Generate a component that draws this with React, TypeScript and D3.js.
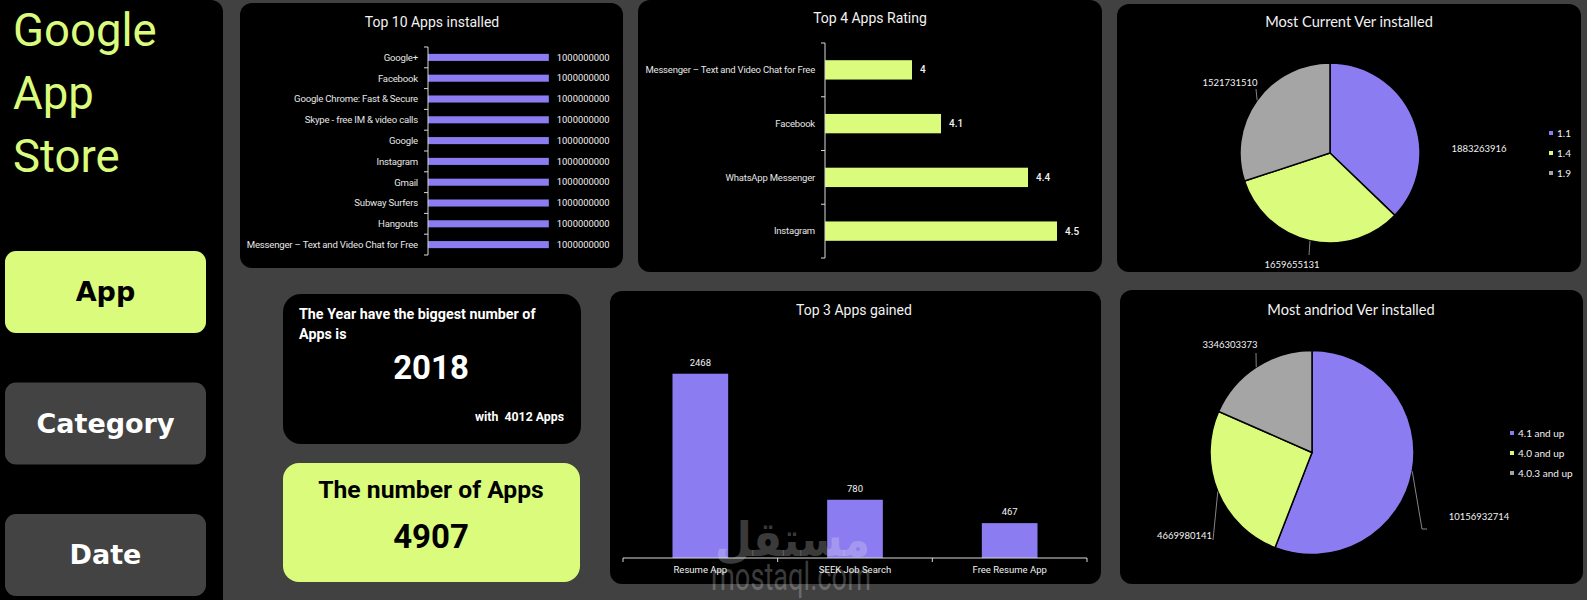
import { useEffect, useRef } from 'react';
import * as d3 from 'd3';

// ---- data ----
const navItems = ['App', 'Category', 'Date'];
const activeNav = 'App';

const installedApps = [
  'Google+',
  'Facebook',
  'Google Chrome: Fast & Secure',
  'Skype - free IM & video calls',
  'Google',
  'Instagram',
  'Gmail',
  'Subway Surfers',
  'Hangouts',
  'Messenger – Text and Video Chat for Free',
];
const installedCounts = [
  1000000000, 1000000000, 1000000000, 1000000000, 1000000000,
  1000000000, 1000000000, 1000000000, 1000000000, 1000000000,
];

const ratedApps = ['Messenger – Text and Video Chat for Free', 'Facebook', 'WhatsApp Messenger', 'Instagram'];
const ratings = [4, 4.1, 4.4, 4.5];

const gainedApps = ['Resume App', 'SEEK Job Search', 'Free Resume App'];
const gainedCounts = [2468, 780, 467];

const currentVersions = ['1.1', '1.4', '1.9'];
const currentVersionInstalls = [1883263916, 1659655131, 1521731510];

const androidVersions = ['4.1 and up', '4.0 and up', '4.0.3 and up'];
const androidVersionInstalls = [10156932714, 4669980141, 3346303373];

const topYear = 2018;
const topYearApps = 4012;
const totalApps = 4907;

// ---- look ----
const W = 1587;
const H = 600;
const BG = '#414141';
const LIME = '#dafb7c';
const PURPLE = '#8c7cf1';
const SLICE_GRAY = '#a5a5a5';
const sliceColors = [PURPLE, LIME, SLICE_GRAY];
const CHART_FONT = 'Roboto, sans-serif';
const PIE_FONT = 'Lato, sans-serif';
const NAV_FONT = '"DejaVu Sans", sans-serif';

type Sel = d3.Selection<any, unknown, null, undefined>;

function panel(svg: Sel, x: number, y: number, w: number, h: number, r: number, fill = '#000') {
  svg.append('rect')
    .attr('x', x).attr('y', y)
    .attr('width', w).attr('height', h)
    .attr('rx', r).attr('ry', r)
    .attr('fill', fill);
}

function chartTitle(svg: Sel, x: number, y: number, label: string, font = CHART_FONT, size = 14) {
  svg.append('text')
    .attr('x', x).attr('y', y)
    .attr('text-anchor', 'middle')
    .style('font-family', font)
    .style('font-size', `${size}px`)
    .style('fill', '#f2f2f2')
    .text(label);
}

// horizontal bar chart with category axis on the left
function hBars(svg: Sel, opts: {
  cats: string[]; vals: number[]; x0: number; top: number; bottom: number;
  domain: [number, number]; xMax: number; color: string; labelFmt: (v: number) => string;
  labelSize: number; valueSize: number; valueWeight: number; padIn: number;
}) {
  const { cats, vals, x0, top, bottom, domain, xMax, color } = opts;
  const y = d3.scaleBand().domain(cats).range([top, bottom])
    .paddingInner(opts.padIn).paddingOuter(opts.padIn / 2);
  const x = d3.scaleLinear().domain(domain).range([x0, xMax]);
  const g = svg.append('g');

  g.selectAll('rect.bar')
    .data(cats)
    .enter()
    .append('rect')
    .attr('class', 'bar')
    .attr('x', x0)
    .attr('y', d => y(d)!)
    .attr('width', (d, i) => x(vals[i]) - x0)
    .attr('height', y.bandwidth())
    .attr('fill', color);

  // axis line + ticks between categories
  const step = y.step();
  g.append('line')
    .attr('x1', x0).attr('x2', x0)
    .attr('y1', top).attr('y2', bottom)
    .attr('stroke', '#d9d9d9').attr('stroke-width', 1);
  g.selectAll('line.tick')
    .data(d3.range(cats.length + 1))
    .enter()
    .append('line')
    .attr('class', 'tick')
    .attr('x1', x0 - 4).attr('x2', x0)
    .attr('y1', i => top + i * step).attr('y2', i => top + i * step)
    .attr('stroke', '#d9d9d9').attr('stroke-width', 1);

  g.selectAll('text.cat')
    .data(cats)
    .enter()
    .append('text')
    .attr('class', 'cat')
    .attr('x', x0 - 10)
    .attr('y', d => y(d)! + y.bandwidth() / 2)
    .attr('dy', '0.35em')
    .attr('text-anchor', 'end')
    .style('font-family', CHART_FONT)
    .style('font-size', `${opts.labelSize}px`)
    .style('letter-spacing', '-0.2px')
    .style('fill', '#e6e6e6')
    .text(d => d);

  g.selectAll('text.val')
    .data(cats)
    .enter()
    .append('text')
    .attr('class', 'val')
    .attr('x', (d, i) => x(vals[i]) + 8)
    .attr('y', d => y(d)! + y.bandwidth() / 2)
    .attr('dy', '0.35em')
    .style('font-family', CHART_FONT)
    .style('font-size', `${opts.valueSize}px`)
    .style('font-weight', opts.valueWeight)
    .style('fill', '#f2f2f2')
    .text((d, i) => opts.labelFmt(vals[i]));
}

// pie with outside labels (positions relative to the pie centre, as placed in the sheet)
type PieLabel = { dx: number; dy: number; anchor: string; leader: [number, number][] };

function pieChart(svg: Sel, opts: {
  labels: string[]; values: number[]; cx: number; cy: number; r: number;
  placements: PieLabel[]; legendX: number; legendY: number;
}) {
  const { labels, values, cx, cy, r } = opts;
  const pie = d3.pie<number>().sort(null).value(d => d);
  const arcs = pie(values);
  const arc = d3.arc<d3.PieArcDatum<number>>().innerRadius(0).outerRadius(r);
  const g = svg.append('g').attr('transform', `translate(${cx},${cy})`);

  g.selectAll('path.slice')
    .data(arcs)
    .enter()
    .append('path')
    .attr('class', 'slice')
    .attr('d', arc)
    .attr('fill', (d, i) => sliceColors[i])
    .attr('stroke', '#000')
    .attr('stroke-width', 1.5);

  arcs.forEach((a, i) => {
    const p = opts.placements[i];
    const mid = (a.startAngle + a.endAngle) / 2;
    const edge: [number, number] = [r * Math.sin(mid), -r * Math.cos(mid)];
    if (p.leader.length) {
      g.append('path')
        .attr('d', d3.line()([edge, ...p.leader]))
        .attr('fill', 'none')
        .attr('stroke', '#a6a6a6')
        .attr('stroke-width', 0.8);
    }
    g.append('text')
      .attr('x', p.dx).attr('y', p.dy)
      .attr('text-anchor', p.anchor)
      .style('font-family', PIE_FONT)
      .style('font-size', '9.5px')
      .style('fill', '#f2f2f2')
      .text(String(values[i]));
  });

  const legend = svg.append('g').attr('transform', `translate(${opts.legendX},${opts.legendY})`);
  labels.forEach((lab, i) => {
    legend.append('rect')
      .attr('x', -2).attr('y', i * 20 - 2)
      .attr('width', 4).attr('height', 4)
      .attr('fill', sliceColors[i]);
    legend.append('text')
      .attr('x', 6).attr('y', i * 20)
      .attr('dy', '0.35em')
      .style('font-family', PIE_FONT)
      .style('font-size', '10px')
      .style('fill', '#f2f2f2')
      .text(lab);
  });
}

export default function App() {
  const svgRef = useRef<SVGSVGElement | null>(null);

  useEffect(() => {
    if (!svgRef.current) return;
    const svg = d3.select(svgRef.current) as Sel;
    svg.selectAll('*').remove();

    svg.append('rect').attr('width', W).attr('height', H).attr('fill', BG);

    // ---- sidebar ----
    svg.append('rect')
      .attr('x', -15).attr('y', 0)
      .attr('width', 238).attr('height', H + 20)
      .attr('rx', 12).attr('ry', 12)
      .attr('fill', '#000');

    ['Google', 'App', 'Store'].forEach((line, i) => {
      svg.append('text')
        .attr('x', 13).attr('y', 46 + i * 63)
        .style('font-family', CHART_FONT)
        .style('font-size', '45.5px')
        .style('fill', LIME)
        .text(line);
    });

    const navTop = d3.scalePoint<string>().domain(navItems).range([251, 514]);
    navItems.forEach(item => {
      const top = navTop(item)!;
      const active = item === activeNav;
      panel(svg, 5, top, 201, 82, 11, active ? LIME : '#434343');
      svg.append('text')
        .attr('x', 105.5).attr('y', top + 50)
        .attr('text-anchor', 'middle')
        .style('font-family', NAV_FONT)
        .style('font-weight', 700)
        .style('font-size', '27px')
        .style('fill', active ? '#000' : '#fff')
        .text(item);
    });

    // ---- Top 10 Apps installed ----
    panel(svg, 240, 3, 383, 265, 12);
    chartTitle(svg, 432, 27, 'Top 10 Apps installed');
    hBars(svg, {
      cats: installedApps, vals: installedCounts, x0: 428, top: 47, bottom: 255,
      domain: [0, 1200000000], xMax: 573, color: PURPLE, labelFmt: v => String(v),
      labelSize: 9.6, valueSize: 9.4, valueWeight: 400, padIn: 0.66,
    });

    // ---- Top 4 Apps Rating ----
    panel(svg, 638, 0, 464, 272, 12);
    chartTitle(svg, 870, 23, 'Top 4 Apps Rating');
    hBars(svg, {
      cats: ratedApps, vals: ratings, x0: 825, top: 43, bottom: 258,
      domain: [3.7, 4.6], xMax: 1086, color: LIME, labelFmt: v => String(v),
      labelSize: 9.5, valueSize: 10, valueWeight: 500, padIn: 0.64,
    });

    // ---- Most Current Ver installed ----
    panel(svg, 1117, 4, 464, 268, 12);
    chartTitle(svg, 1349, 27, 'Most Current Ver installed', PIE_FONT, 14.6);
    pieChart(svg, {
      labels: currentVersions, values: currentVersionInstalls, cx: 1330, cy: 153, r: 90,
      placements: [
        { dx: 149, dy: -1, anchor: 'middle', leader: [] },
        { dx: -38, dy: 115, anchor: 'middle', leader: [[-21, 102]] },
        { dx: -100, dy: -67, anchor: 'middle', leader: [[-74, -64]] },
      ],
      legendX: 1551, legendY: 133,
    });

    // ---- Year card ----
    panel(svg, 283, 294, 298, 150, 18);
    ['The Year have the biggest number of', 'Apps is'].forEach((line, i) => {
      svg.append('text')
        .attr('x', 299).attr('y', 319 + i * 20)
        .style('font-family', CHART_FONT)
        .style('font-weight', 700)
        .style('font-size', '14.3px')
        .style('fill', '#fff')
        .text(line);
    });
    svg.append('text')
      .attr('x', 431).attr('y', 379)
      .attr('text-anchor', 'middle')
      .style('font-family', CHART_FONT)
      .style('font-weight', 700)
      .style('font-size', '33px')
      .style('fill', '#fff')
      .text(String(topYear));
    svg.append('text')
      .attr('x', 564).attr('y', 421)
      .attr('text-anchor', 'end')
      .style('font-family', CHART_FONT)
      .style('font-weight', 700)
      .style('font-size', '12.3px')
      .style('fill', '#fff')
      .style('white-space', 'pre')
      .text(`with  ${topYearApps} Apps`);

    // ---- Number of apps card ----
    panel(svg, 283, 463, 297, 119, 16, LIME);
    svg.append('text')
      .attr('x', 431).attr('y', 498)
      .attr('text-anchor', 'middle')
      .style('font-family', CHART_FONT)
      .style('font-weight', 700)
      .style('font-size', '24.7px')
      .style('fill', '#000')
      .text('The number of Apps');
    svg.append('text')
      .attr('x', 431).attr('y', 548)
      .attr('text-anchor', 'middle')
      .style('font-family', CHART_FONT)
      .style('font-weight', 700)
      .style('font-size', '33px')
      .style('fill', '#000')
      .text(String(totalApps));

    // ---- Top 3 Apps gained ----
    panel(svg, 610, 291, 491, 293, 12);
    chartTitle(svg, 854, 315, 'Top 3 Apps gained');
    const xg = d3.scaleBand().domain(gainedApps).range([623, 1087]).paddingInner(0.64).paddingOuter(0.32);
    const yg = d3.scaleLinear().domain([0, 3000]).range([558, 334]);
    const gg = svg.append('g');
    gg.selectAll('rect')
      .data(gainedApps)
      .enter()
      .append('rect')
      .attr('x', d => xg(d)!)
      .attr('y', (d, i) => yg(gainedCounts[i]))
      .attr('width', xg.bandwidth())
      .attr('height', (d, i) => yg(0) - yg(gainedCounts[i]))
      .attr('fill', PURPLE);
    gg.append('line')
      .attr('x1', 623).attr('x2', 1087)
      .attr('y1', 558).attr('y2', 558)
      .attr('stroke', '#d9d9d9');
    gg.selectAll('line.tick')
      .data(d3.range(gainedApps.length + 1))
      .enter()
      .append('line')
      .attr('class', 'tick')
      .attr('x1', i => 623 + i * xg.step()).attr('x2', i => 623 + i * xg.step())
      .attr('y1', 558).attr('y2', 562)
      .attr('stroke', '#d9d9d9');
    gg.selectAll('text.val')
      .data(gainedApps)
      .enter()
      .append('text')
      .attr('class', 'val')
      .attr('x', d => xg(d)! + xg.bandwidth() / 2)
      .attr('y', (d, i) => yg(gainedCounts[i]) - 8)
      .attr('text-anchor', 'middle')
      .style('font-family', CHART_FONT)
      .style('font-size', '9.5px')
      .style('fill', '#f2f2f2')
      .text((d, i) => String(gainedCounts[i]));
    gg.selectAll('text.cat')
      .data(gainedApps)
      .enter()
      .append('text')
      .attr('class', 'cat')
      .attr('x', d => xg(d)! + xg.bandwidth() / 2)
      .attr('y', 573)
      .attr('text-anchor', 'middle')
      .style('font-family', CHART_FONT)
      .style('font-size', '9.5px')
      .style('fill', '#f2f2f2')
      .text(d => d);

    // ---- Most andriod Ver installed ----
    panel(svg, 1120, 290, 463, 294, 12);
    chartTitle(svg, 1351, 315, 'Most andriod Ver installed', PIE_FONT, 14.6);
    pieChart(svg, {
      labels: androidVersions, values: androidVersionInstalls, cx: 1312, cy: 452.5, r: 102,
      placements: [
        { dx: 167, dy: 67.5, anchor: 'middle', leader: [[110, 76.5], [115, 76.5]] },
        { dx: -100, dy: 86.5, anchor: 'end', leader: [[-99, 87.5]] },
        { dx: -82, dy: -104.5, anchor: 'middle', leader: [[-56, -99.5]] },
      ],
      legendX: 1512, legendY: 433,
    });

    // ---- site watermark over the picture ----
    const wm = svg.append('g').style('fill', 'rgba(235,235,235,0.26)');
    wm.append('text')
      .attr('x', 715).attr('y', 556)
      .attr('textLength', 155).attr('lengthAdjust', 'spacingAndGlyphs')
      .style('font-family', NAV_FONT)
      .style('font-weight', 700)
      .style('font-size', '48px')
      .text('مستقل');
    wm.append('text')
      .attr('x', 711).attr('y', 590)
      .attr('textLength', 160).attr('lengthAdjust', 'spacingAndGlyphs')
      .style('font-family', CHART_FONT)
      .style('font-size', '38px')
      .text('mostaql.com');
  }, []);

  return (
    <svg
      ref={svgRef}
      width={W}
      height={H}
      style={{ position: 'fixed', left: 0, top: 0, display: 'block' }}
    />
  );
}
